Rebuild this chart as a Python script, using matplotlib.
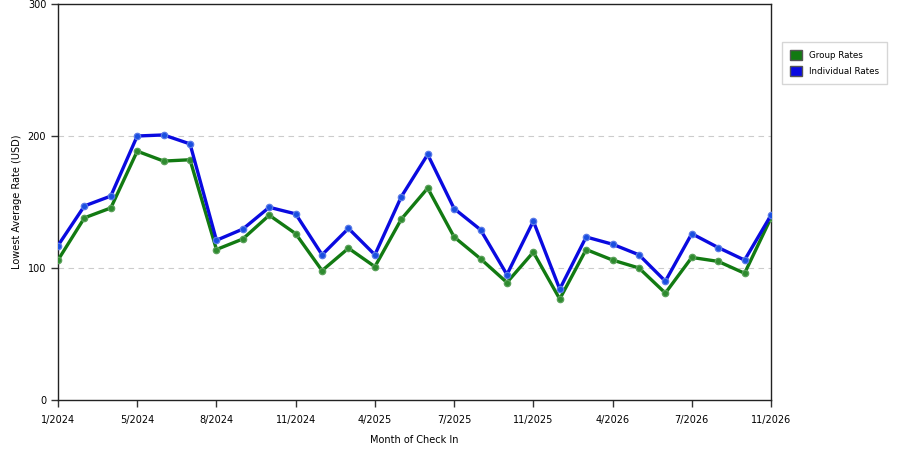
import matplotlib
matplotlib.use("Agg")
import matplotlib.pyplot as plt
from matplotlib.patches import Patch

# months shown on the chart (some months are missing from the data)
months = ['1/2024', '3/2024', '4/2024', '5/2024', '6/2024', '7/2024', '8/2024',
          '9/2024', '10/2024', '11/2024', '1/2025', '2/2025', '4/2025', '5/2025',
          '6/2025', '7/2025', '8/2025', '9/2025', '11/2025', '1/2026', '3/2026',
          '4/2026', '5/2026', '6/2026', '7/2026', '8/2026', '9/2026', '11/2026']
group_rates = [106, 138, 145.5, 188.5, 181, 182, 114, 122, 140, 126, 98, 115, 101, 137,
               160.5, 123.5, 107, 89, 112, 76.5, 114, 106, 100, 81, 108, 105, 96, 138]
indiv_rates = [117, 147, 154.5, 200, 200.8, 194, 121, 129.5, 146, 141, 110, 130, 110, 154,
               186, 145, 129, 95, 135.5, 84, 123.5, 118, 110, 90, 126, 115.5, 106, 140]

green = '#127a12'
blue = '#0a0ae0'

fig = plt.figure(figsize=(9, 4.5), dpi=100)
ax = fig.add_axes([58/900, 50/450, 713/900, 396/450])

x = list(range(len(months)))
ax.plot(x, group_rates, color=green, lw=2.4, marker='o', ms=4.6,
        mfc='#2e8b2e', mec='#5aa05a', mew=0.9, zorder=3)
ax.plot(x, indiv_rates, color=blue, lw=2.4, marker='o', ms=4.6,
        mfc='#1a4fe0', mec='#5a7ae8', mew=0.9, zorder=4)

ax.set_xlim(0, len(months) - 1)
ax.set_ylim(0, 300)
ax.set_yticks([0, 100, 200, 300])
ax.set_xticks(x[::3])
ax.set_xticklabels(months[::3])
for yv in [100, 200]:
    ax.axhline(yv, color='#cccccc', lw=0.8, ls=(0, (5, 4)), zorder=1)

ax.tick_params(labelsize=7, length=5, width=1, color='#333333')
ax.tick_params(axis='x', pad=6)
for s in ax.spines.values():
    s.set_color('#222222')
    s.set_linewidth(1)
ax.set_xlabel('Month of Check In', fontsize=7, labelpad=7)
ax.set_ylabel('Lowest Average Rate (USD)', fontsize=7, labelpad=4)

handles = [Patch(facecolor=green, edgecolor='#555555', label='Group Rates'),
           Patch(facecolor=blue, edgecolor='#555555', label='Individual Rates')]
fig.legend(handles=handles, loc='upper left', bbox_to_anchor=(778/900, 1 - 38/450),
           fontsize=6.3, frameon=True, fancybox=False, edgecolor='#cccccc',
           handlelength=1.3, handleheight=1.3, borderpad=0.9, labelspacing=0.7)

fig.savefig('out.png', dpi=100)
